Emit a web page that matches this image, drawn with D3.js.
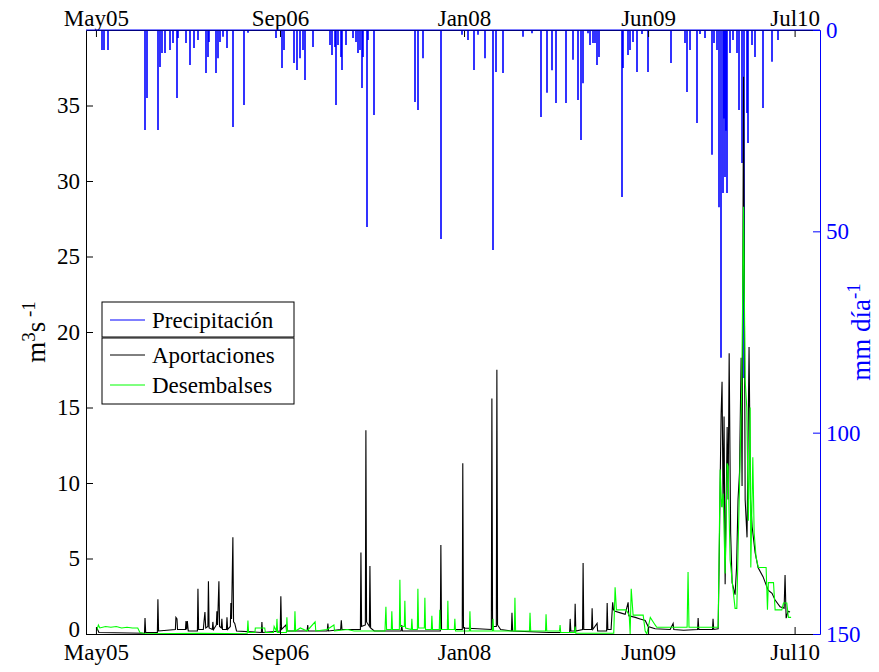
<!DOCTYPE html>
<html>
<head>
<meta charset="utf-8">
<script src="https://cdn.jsdelivr.net/npm/d3@7"></script>
<style>
    body { margin: 0; background: #fff; }
    svg text { font-family: "Liberation Serif", "Times New Roman", serif; }
</style>
</head>
<body>
<div id="chart"></div>
<script>
// Series as [decimal year, value]
const precipitacion = [ // mm día-1 (right axis, reversed)
    [2005.374, 5.0], [2005.389, 5.0], [2005.418, 5.0],
    [2005.694, 24.8], [2005.708, 16.9], [2005.790, 24.8], [2005.805, 9.2], [2005.820, 5.7], [2005.842, 5.7],
    [2005.880, 5.0], [2005.902, 3.2], [2005.932, 16.9], [2005.939, 2.0], [2005.999, 3.2],
    [2006.028, 8.7], [2006.058, 4.5], [2006.088, 2.5], [2006.147, 10.7], [2006.162, 6.7], [2006.170, 3.0],
    [2006.222, 10.7], [2006.237, 7.0], [2006.252, 3.0], [2006.274, 1.7], [2006.304, 4.5], [2006.348, 24.1],
    [2006.430, 18.6], [2006.460, 0.7],
    [2006.668, 2.0], [2006.713, 9.4], [2006.728, 5.0], [2006.802, 8.2], [2006.824, 9.9], [2006.847, 7.0],
    [2006.869, 5.0], [2006.884, 12.4], [2006.943, 4.2],
    [2007.070, 3.7], [2007.085, 6.2], [2007.107, 4.2], [2007.115, 18.6], [2007.129, 3.7], [2007.152, 6.7],
    [2007.159, 9.9], [2007.189, 3.7], [2007.241, 2.0], [2007.263, 3.0], [2007.278, 5.7], [2007.293, 5.0],
    [2007.308, 14.4], [2007.315, 6.7], [2007.345, 48.9], [2007.353, 2.5], [2007.397, 21.1],
    [2007.702, 17.9], [2007.725, 19.9], [2007.762, 7.0], [2007.896, 51.9],
    [2008.052, 1.2], [2008.097, 2.5], [2008.141, 9.9], [2008.171, 1.2], [2008.223, 7.0], [2008.283, 54.6],
    [2008.305, 10.4], [2008.357, 10.7], [2008.506, 1.7], [2008.572, 0.8],
    [2008.640, 21.6], [2008.684, 15.6], [2008.722, 10.0], [2008.752, 18.1], [2008.826, 18.1], [2008.878, 7.4],
    [2008.915, 17.4], [2008.937, 27.3], [2008.952, 13.2], [2008.989, 0.8], [2009.004, 3.7], [2009.027, 3.2],
    [2009.041, 3.2], [2009.056, 8.7], [2009.071, 6.7],
    [2009.242, 41.5], [2009.250, 9.4], [2009.287, 6.2], [2009.302, 5.0], [2009.324, 3.0], [2009.354, 10.4],
    [2009.391, 1.0], [2009.436, 10.4], [2009.607, 8.2],
    [2009.711, 3.2], [2009.726, 15.4], [2009.748, 5.0], [2009.800, 23.1], [2009.823, 1.0], [2009.860, 2.0],
    [2009.912, 31.0], [2009.927, 3.2], [2009.949, 5.0], [2009.964, 44.0], [2009.979, 81.4], [2009.994, 40.5],
    [2010.001, 22.0], [2010.009, 36.5], [2010.016, 25.0], [2010.024, 40.5], [2010.046, 5.7], [2010.068, 2.5],
    [2010.098, 5.7], [2010.113, 19.9], [2010.135, 33.0], [2010.150, 86.4], [2010.172, 20.6], [2010.180, 28.1],
    [2010.210, 3.7], [2010.232, 6.7], [2010.291, 19.4], [2010.358, 7.9], [2010.403, 2.5]
];

const aportaciones = [ // m3 s-1 (left axis)
    [2005.336, 0.4], [2005.351, 0.1], [2005.690, 0.05], [2005.694, 1.06], [2005.699, 0.1],
    [2005.786, 0.1], [2005.790, 2.3], [2005.795, 0.2],
    [2005.920, 0.3], [2005.924, 1.1], [2005.932, 1.0], [2005.936, 0.3],
    [2005.995, 0.3], [2005.999, 0.86], [2006.004, 0.3], [2006.009, 0.86], [2006.016, 0.2],
    [2006.084, 0.2], [2006.088, 3.0], [2006.093, 0.3],
    [2006.128, 0.3], [2006.133, 0.8], [2006.140, 1.45], [2006.146, 0.4], [2006.162, 0.5], [2006.166, 3.5], [2006.171, 0.4],
    [2006.195, 0.3], [2006.199, 0.8], [2006.204, 0.3], [2006.225, 0.6], [2006.229, 1.5], [2006.234, 0.6],
    [2006.244, 3.5], [2006.249, 0.5], [2006.262, 0.4], [2006.266, 1.0], [2006.271, 0.3],
    [2006.300, 0.3], [2006.304, 1.1], [2006.309, 0.3], [2006.329, 0.5], [2006.333, 2.05], [2006.338, 1.0],
    [2006.348, 6.4], [2006.353, 0.8], [2006.362, 0.7], [2006.375, 0.2],
    [2006.560, 0.1], [2006.564, 0.8], [2006.569, 0.1], [2006.700, 0.2], [2006.705, 2.5], [2006.710, 0.3],
    [2006.743, 0.6], [2006.748, 0.2], [2006.900, 0.2], [2006.905, 0.6], [2006.910, 0.2],
    [2007.050, 0.2], [2007.055, 0.7], [2007.060, 0.2], [2007.150, 0.3], [2007.155, 0.9], [2007.160, 0.3],
    [2007.297, 0.3], [2007.301, 5.4], [2007.306, 0.5], [2007.334, 0.6], [2007.338, 13.5], [2007.343, 0.8],
    [2007.364, 0.5], [2007.368, 4.5], [2007.373, 0.4], [2007.400, 0.2],
    [2007.600, 0.2], [2007.605, 0.6], [2007.610, 0.2], [2007.892, 0.2], [2007.896, 5.9], [2007.901, 0.3],
    [2008.055, 0.3], [2008.059, 11.3], [2008.064, 0.4], [2008.271, 0.3], [2008.275, 15.6], [2008.280, 0.5],
    [2008.308, 0.5], [2008.312, 17.5], [2008.317, 0.6], [2008.340, 0.3], [2008.420, 0.2], [2008.424, 1.4], [2008.429, 0.2],
    [2008.700, 0.1], [2008.852, 0.1], [2008.856, 1.0], [2008.861, 0.2], [2008.889, 0.2], [2008.893, 2.0], [2008.898, 0.2],
    [2008.948, 0.3], [2008.952, 4.7], [2008.957, 0.3], [2009.015, 0.3], [2009.019, 1.7], [2009.024, 0.3],
    [2009.056, 0.7], [2009.060, 0.2], [2009.127, 0.2], [2009.131, 2.05], [2009.136, 0.3], [2009.160, 0.3],
    [2009.172, 2.1], [2009.178, 1.6], [2009.190, 1.5], [2009.230, 1.4], [2009.265, 1.3], [2009.287, 2.1],
    [2009.292, 1.2], [2009.340, 1.1], [2009.376, 1.0], [2009.414, 0.9], [2009.436, 0.5], [2009.488, 0.35],
    [2009.600, 0.3], [2009.622, 0.7], [2009.627, 0.3], [2009.700, 0.25], [2009.804, 0.3], [2009.808, 1.05],
    [2009.813, 0.3], [2009.915, 0.3], [2009.919, 1.0], [2009.924, 0.3], [2009.957, 0.35],
    [2009.964, 4.4], [2009.972, 10.0], [2009.979, 14.5], [2009.986, 16.7], [2009.994, 8.4], [2010.001, 14.4],
    [2010.009, 3.3], [2010.016, 8.0], [2010.024, 13.7], [2010.031, 8.9], [2010.039, 18.6], [2010.050, 6.7],
    [2010.061, 3.4], [2010.083, 2.6], [2010.094, 4.4], [2010.105, 8.9], [2010.116, 10.7], [2010.128, 18.3],
    [2010.135, 9.8], [2010.146, 36.9], [2010.158, 8.9], [2010.172, 6.4], [2010.187, 19.0], [2010.198, 8.9],
    [2010.210, 7.1], [2010.232, 5.4], [2010.254, 4.4], [2010.291, 3.8], [2010.329, 2.9], [2010.358, 2.7],
    [2010.381, 2.25], [2010.418, 1.8], [2010.448, 1.7], [2010.455, 3.9], [2010.463, 1.05], [2010.477, 1.5],
    [2010.492, 1.45]
];

const desembalses = [ // m3 s-1 (left axis)
    [2005.336, 0.25], [2005.347, 0.6], [2005.358, 0.4], [2005.400, 0.5], [2005.440, 0.45], [2005.480, 0.5],
    [2005.520, 0.4], [2005.560, 0.45], [2005.600, 0.4], [2005.640, 0.4], [2005.656, 0.1], [2005.680, 0.05],
    [2005.900, 0.03], [2006.100, 0.05], [2006.300, 0.03], [2006.455, 0.05], [2006.460, 0.9], [2006.465, 0.1],
    [2006.512, 0.1], [2006.515, 0.4], [2006.585, 0.4], [2006.590, 0.1], [2006.650, 0.1], [2006.655, 0.5],
    [2006.672, 0.2], [2006.676, 1.0], [2006.681, 0.1], [2006.746, 0.1], [2006.750, 1.1], [2006.755, 0.2],
    [2006.806, 0.2], [2006.810, 1.5], [2006.815, 0.2], [2006.850, 0.4], [2006.900, 0.2], [2006.960, 0.8],
    [2006.965, 0.2], [2007.050, 0.3], [2007.100, 0.6], [2007.105, 0.2], [2007.200, 0.3], [2007.250, 0.2],
    [2007.480, 0.2], [2007.487, 1.8], [2007.492, 0.3], [2007.527, 0.3], [2007.531, 1.5], [2007.536, 0.3],
    [2007.587, 0.3], [2007.591, 3.6], [2007.596, 0.5], [2007.624, 0.5], [2007.628, 2.2], [2007.633, 0.4],
    [2007.676, 0.3], [2007.680, 1.0], [2007.685, 0.3], [2007.721, 0.3], [2007.725, 3.0], [2007.730, 0.4],
    [2007.773, 0.4], [2007.777, 2.4], [2007.782, 0.3], [2007.825, 0.3], [2007.829, 1.2], [2007.834, 0.3],
    [2007.884, 0.3], [2007.888, 1.6], [2007.893, 0.3], [2007.944, 0.3], [2007.948, 2.2], [2007.953, 0.3],
    [2007.996, 0.3], [2008.000, 1.0], [2008.005, 0.2], [2008.108, 0.2], [2008.112, 1.5], [2008.117, 0.2],
    [2008.279, 0.2], [2008.283, 1.0], [2008.288, 0.2], [2008.442, 0.2], [2008.446, 2.4], [2008.451, 0.2],
    [2008.554, 0.2], [2008.558, 1.4], [2008.563, 0.2], [2008.673, 0.2], [2008.677, 1.3], [2008.682, 0.2],
    [2008.777, 0.2], [2008.781, 0.6], [2008.786, 0.1], [2008.889, 0.1], [2008.893, 0.5], [2008.898, 0.05],
    [2009.180, 0.05], [2009.190, 3.1], [2009.200, 1.6], [2009.272, 1.6], [2009.295, 1.25], [2009.302, 0.0],
    [2009.310, 3.0], [2009.324, 1.25], [2009.399, 1.25], [2009.414, 0.2], [2009.426, 0.0], [2009.452, 1.1],
    [2009.488, 0.6], [2009.500, 0.45], [2009.726, 0.45], [2009.733, 4.1], [2009.740, 0.45], [2009.957, 0.45],
    [2009.972, 10.9], [2009.983, 8.4], [2009.994, 9.3], [2010.009, 4.0], [2010.024, 11.3], [2010.031, 11.1],
    [2010.046, 4.9], [2010.066, 3.1], [2010.083, 1.7], [2010.096, 1.7], [2010.108, 6.7], [2010.120, 11.3],
    [2010.133, 16.6], [2010.146, 28.3], [2010.158, 16.8], [2010.170, 15.0], [2010.182, 7.5], [2010.195, 15.0],
    [2010.200, 4.4], [2010.215, 11.7], [2010.225, 6.7], [2010.239, 5.1], [2010.256, 4.4], [2010.314, 4.4],
    [2010.324, 1.6], [2010.331, 3.4], [2010.369, 3.4], [2010.381, 1.6], [2010.431, 1.6], [2010.443, 2.05],
    [2010.468, 2.05], [2010.480, 1.1], [2010.500, 1.1]
];

// x ticks every 500 days from the start of the record, last one at its end
const xTickDates = ["2005-05-01", "2006-09-13", "2008-01-26", "2009-06-09", "2010-07-12"];
const xDomain = ["2005-04-04", "2010-09-19"];
const leftTicks = [0, 5, 10, 15, 20, 25, 30, 35];
const rightTicks = [0, 50, 100, 150];
const legendItems = [["Aportaciones", "#000000"], ["Desembalses", "#00ff00"]];

const parseDay = d3.timeParse("%Y-%m-%d");

// decimal year -> Date
function yearToDate(y) {
    const yr = Math.floor(y);
    const a = new Date(yr, 0, 1), b = new Date(yr + 1, 0, 1);
    return new Date(+a + (y - yr) * (b - a));
}

function render() {
    const width = 879, height = 672;
    const margin = { top: 30, right: 59, bottom: 38, left: 86 };
    const fontSize = 23;

    const svg = d3.select("#chart").append("svg")
        .attr("width", width)
        .attr("height", height);

    const x = d3.scaleTime()
        .domain(xDomain.map(parseDay))
        .range([margin.left, width - margin.right]);

    const yL = d3.scaleLinear()
        .domain([0, 40])
        .range([height - margin.bottom, margin.top]);

    const yR = d3.scaleLinear()
        .domain([0, 150])
        .range([margin.top, height - margin.bottom]);

    // Precipitation stems hanging from the top
    svg.append("path")
        .attr("fill", "none")
        .attr("stroke", "#0000ff")
        .attr("stroke-width", 1.6)
        .attr("d", precipitacion.map(d => {
            const px = Math.round(x(yearToDate(d[0])));
            return `M${px},${yR(0)}V${yR(d[1]).toFixed(1)}`;
        }).join(""));

    const line = d3.line()
        .x(d => x(yearToDate(d[0])))
        .y(d => yL(d[1]));

    svg.append("path")
        .datum(aportaciones)
        .attr("fill", "none")
        .attr("stroke", "#000")
        .attr("stroke-width", 1.1)
        .attr("d", line);

    svg.append("path")
        .datum(desembalses)
        .attr("fill", "none")
        .attr("stroke", "#00ff00")
        .attr("stroke-width", 1.1)
        .attr("d", line);

    const tickDates = xTickDates.map(parseDay);
    const fmt = d3.timeFormat("%b%y");

    const styleAxis = (g, color) => {
        g.selectAll("path.domain").attr("stroke", color);
        g.selectAll(".tick line").attr("stroke", color);
        g.selectAll("text")
            .attr("fill", color)
            .style("font-size", fontSize + "px")
            .style("font-family", "Liberation Serif");
    };

    // Bottom axis
    svg.append("g")
        .attr("transform", `translate(0,${height - margin.bottom})`)
        .call(d3.axisBottom(x).tickValues(tickDates).tickFormat(fmt)
            .tickSizeInner(-7).tickSizeOuter(0).tickPadding(10))
        .call(g => styleAxis(g, "#000"));

    // Top axis
    svg.append("g")
        .attr("transform", `translate(0,${margin.top})`)
        .call(d3.axisTop(x).tickValues(tickDates).tickFormat(fmt)
            .tickSizeInner(-7).tickSizeOuter(0).tickPadding(4))
        .call(g => styleAxis(g, "#000"));

    // Left axis
    svg.append("g")
        .attr("transform", `translate(${margin.left},0)`)
        .call(d3.axisLeft(yL).tickValues(leftTicks)
            .tickSizeInner(-7).tickSizeOuter(0).tickPadding(6))
        .call(g => styleAxis(g, "#000"))
        .call(g => g.selectAll(".tick text").filter(d => d === 0).attr("dy", "0.12em"));

    // Right axis (precipitation)
    svg.append("g")
        .attr("transform", `translate(${width - margin.right},0)`)
        .call(d3.axisRight(yR).tickValues(rightTicks)
            .tickSizeInner(-7).tickSizeOuter(0).tickPadding(6))
        .call(g => styleAxis(g, "#0000ff"));

    // Precipitation baseline over the top edge
    svg.append("line")
        .attr("x1", margin.left).attr("x2", width - margin.right)
        .attr("y1", yR(0)).attr("y2", yR(0))
        .attr("stroke", "#0000ff").attr("stroke-width", 1);

    // Axis titles
    const midY = (margin.top + height - margin.bottom) / 2;
    const yTitle = svg.append("text")
        .attr("transform", `translate(45,${midY}) rotate(-90)`)
        .attr("text-anchor", "middle")
        .attr("fill", "#000")
        .style("font-size", "27px");
    yTitle.append("tspan").text("m");
    yTitle.append("tspan").attr("dy", -10).style("font-size", "19px").text("3");
    yTitle.append("tspan").attr("dy", 10).text("s");
    yTitle.append("tspan").attr("dy", -10).style("font-size", "19px").text(" -1");

    const y2Title = svg.append("text")
        .attr("transform", `translate(870,${midY}) rotate(-90)`)
        .attr("text-anchor", "middle")
        .attr("fill", "#0000ff")
        .style("font-size", "27px");
    y2Title.append("tspan").text("mm día");
    y2Title.append("tspan").attr("dy", -10).style("font-size", "19px").text("-1");

    // Legends: one box for the right axis, one for the left
    const lx = 102, lw = 192;
    const leg1 = svg.append("g");
    leg1.append("rect")
        .attr("x", lx).attr("y", 302).attr("width", lw).attr("height", 35)
        .attr("fill", "#fff").attr("stroke", "#000");
    leg1.append("line")
        .attr("x1", lx + 8).attr("x2", lx + 43).attr("y1", 320).attr("y2", 320)
        .attr("stroke", "#0000ff");
    leg1.append("text")
        .attr("x", lx + 50).attr("y", 328)
        .style("font-size", fontSize + "px")
        .text("Precipitación");

    const leg2 = svg.append("g");
    leg2.append("rect")
        .attr("x", lx).attr("y", 338).attr("width", lw).attr("height", 66)
        .attr("fill", "#fff").attr("stroke", "#000");
    legendItems.forEach((d, i) => {
        const cy = 355 + i * 30;
        leg2.append("line")
            .attr("x1", lx + 8).attr("x2", lx + 43).attr("y1", cy).attr("y2", cy)
            .attr("stroke", d[1]);
        leg2.append("text")
            .attr("x", lx + 50).attr("y", cy + 8)
            .style("font-size", fontSize + "px")
            .text(d[0]);
    });
}

render();
</script>
</body>
</html>
